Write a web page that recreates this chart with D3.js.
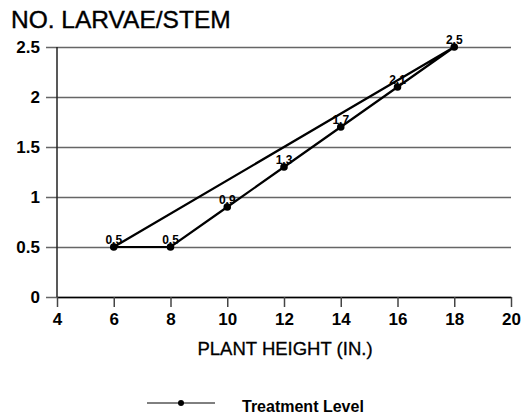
<!DOCTYPE html>
<html>
<head>
<meta charset="utf-8">
<script src="https://cdn.jsdelivr.net/npm/d3@7"></script>
<style>
  body { margin: 0; background: #fff; }
  svg { font-family: "Liberation Sans", Arial, sans-serif; }
</style>
</head>
<body>
<svg id="chart" width="530" height="415"></svg>
<script>
const plantHeight = [6, 8, 10, 12, 14, 16, 18];
const larvaePerStem = [0.5, 0.5, 0.9, 1.3, 1.7, 2.1, 2.5];
const xTicks = [4, 6, 8, 10, 12, 14, 16, 18, 20];
const yTicks = [0, 0.5, 1, 1.5, 2, 2.5];
const seriesName = "Treatment Level";

const svg = d3.select("#chart");
const x = d3.scaleLinear().domain([4, 20]).range([57, 511]);
const y = d3.scaleLinear().domain([0, 2.5]).range([297, 47]);

const points = plantHeight.map((h, i) => ({ x: h, y: larvaePerStem[i] }));

// title
svg.append("text")
    .attr("x", 11).attr("y", 28)
    .attr("font-size", 24.5)
    .attr("stroke", "#000").attr("stroke-width", 0.4)
    .text("NO. LARVAE/STEM");

// horizontal grid + y ticks
const yAxis = svg.append("g")
    .attr("transform", `translate(${x(4)},0)`)
    .call(d3.axisLeft(y).tickValues(yTicks).tickSize(11).tickPadding(6)
        .tickFormat(d3.format("")));
yAxis.select(".domain").remove();
yAxis.selectAll(".tick line").attr("stroke", "#666").attr("stroke-width", 1.5)
    .attr("x2", x(20) - x(4)).attr("x1", -11);
yAxis.selectAll(".tick text")
    .attr("font-size", 17).attr("font-weight", "bold").attr("fill", "#000")
    .attr("font-family", "Liberation Sans, Arial, sans-serif");

// y axis line
svg.append("line")
    .attr("x1", x(4)).attr("x2", x(4))
    .attr("y1", y(2.5)).attr("y2", y(0))
    .attr("stroke", "#222").attr("stroke-width", 1.5);

// x axis
const xAxis = svg.append("g")
    .attr("transform", `translate(0,${y(0)})`)
    .call(d3.axisBottom(x).tickValues(xTicks).tickSize(10).tickPadding(6)
        .tickSizeOuter(0));
xAxis.select(".domain").attr("stroke", "#000").attr("stroke-width", 1.5);
xAxis.selectAll(".tick line").attr("stroke", "#444").attr("stroke-width", 1.5);
xAxis.selectAll(".tick text")
    .attr("font-size", 17).attr("font-weight", "bold").attr("fill", "#000")
    .attr("font-family", "Liberation Sans, Arial, sans-serif");

svg.append("text")
    .attr("x", 285).attr("y", 355)
    .attr("text-anchor", "middle")
    .attr("font-size", 18.5)
    .attr("stroke", "#000").attr("stroke-width", 0.3)
    .text("PLANT HEIGHT (IN.)");

// series
const line = d3.line().x(d => x(d.x)).y(d => y(d.y)).curve(d3.curveLinearClosed);
svg.append("path")
    .datum(points)
    .attr("d", line)
    .attr("fill", "none")
    .attr("stroke", "#000")
    .attr("stroke-width", 2.2);

svg.selectAll("circle.pt")
    .data(points)
    .enter().append("circle")
    .attr("class", "pt")
    .attr("cx", d => x(d.x)).attr("cy", d => y(d.y))
    .attr("r", 3.8);

svg.selectAll("text.lbl")
    .data(points)
    .enter().append("text")
    .attr("class", "lbl")
    .attr("x", d => x(d.x)).attr("y", d => y(d.y) - 3)
    .attr("text-anchor", "middle")
    .attr("font-size", 12).attr("font-weight", "bold")
    .text(d => d.y);

// legend
const legend = svg.append("g").attr("transform", "translate(0,403)");
legend.append("line")
    .attr("x1", 147).attr("x2", 215)
    .attr("stroke", "#000").attr("stroke-width", 1);
legend.append("circle").attr("cx", 181).attr("r", 3);
legend.append("text")
    .attr("x", 242).attr("y", 9)
    .attr("font-size", 16).attr("font-weight", "bold")
    .text(seriesName);
</script>
</body>
</html>
